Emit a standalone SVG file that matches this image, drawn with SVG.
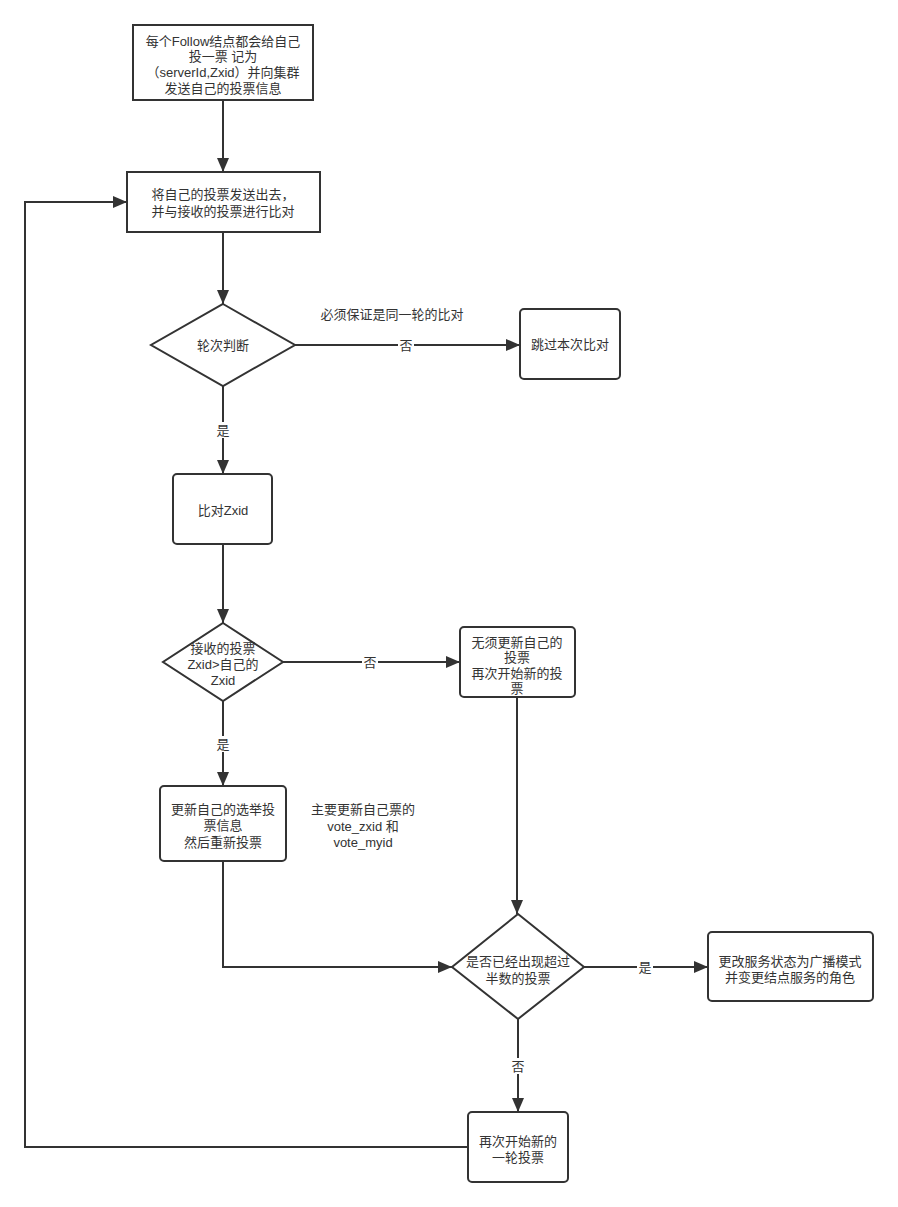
<svg xmlns="http://www.w3.org/2000/svg" width="898" height="1207" viewBox="0 0 898 1207">
<style>
.s{fill:#ffffff;stroke:#333333;stroke-width:2}
.e{fill:none;stroke:#333333;stroke-width:2}
text{font-family:"Liberation Sans","Noto Sans CJK SC",sans-serif;font-size:13px;fill:#333333;text-anchor:middle;dominant-baseline:central}
</style>
<defs>
<marker id="ar" markerWidth="14" markerHeight="12" refX="14" refY="6" orient="auto" markerUnits="userSpaceOnUse">
<path d="M0,0 L14,6 L0,12 Z" fill="#333333"/>
</marker>
</defs>
<rect width="898" height="1207" fill="#ffffff"/>
<g id="connectors">
<path class="e" d="M223,100 V172" marker-end="url(#ar)"/>
<path class="e" d="M223,232 V304" marker-end="url(#ar)"/>
<path class="e" d="M295,345 H520" marker-end="url(#ar)"/>
<path class="e" d="M223,386 V474" marker-end="url(#ar)"/>
<path class="e" d="M223,544 V623" marker-end="url(#ar)"/>
<path class="e" d="M283,662 H460" marker-end="url(#ar)"/>
<path class="e" d="M223,701 V786" marker-end="url(#ar)"/>
<path class="e" d="M517,697 V914" marker-end="url(#ar)"/>
<path class="e" d="M223,861 V967 H452" marker-end="url(#ar)"/>
<path class="e" d="M584,967 H708" marker-end="url(#ar)"/>
<path class="e" d="M518,1019 V1112" marker-end="url(#ar)"/>
<path class="e" d="M468,1147 H25 V202 H127" marker-end="url(#ar)"/>
<rect x="398" y="337" width="16" height="16" fill="#ffffff"/>
<text x="406" y="345">否</text>
<rect x="215" y="422" width="16" height="16" fill="#ffffff"/>
<text x="223" y="430">是</text>
<rect x="362" y="654" width="16" height="16" fill="#ffffff"/>
<text x="370" y="662">否</text>
<rect x="215" y="736" width="16" height="16" fill="#ffffff"/>
<text x="223" y="744">是</text>
<rect x="637" y="959" width="16" height="16" fill="#ffffff"/>
<text x="645" y="967">是</text>
<rect x="510" y="1058" width="16" height="16" fill="#ffffff"/>
<text x="518" y="1066">否</text>
<text x="392" y="314">必须保证是同一轮的比对</text>
<text x="363" y="809">主要更新自己票的</text>
<text x="363" y="826">vote_zxid 和</text>
<text x="363" y="842">vote_myid</text>
</g>
<g id="n1">
<rect class="s" x="133" y="25" width="180" height="75"/>
<text x="223" y="41">每个Follow结点都会给自己</text>
<text x="223" y="56">投一票 记为</text>
<text x="223" y="72">（serverId,Zxid）并向集群</text>
<text x="223" y="88">发送自己的投票信息</text>
</g>
<g id="n2">
<rect class="s" x="127" y="172" width="193" height="60"/>
<text x="223" y="194">将自己的投票发送出去，</text>
<text x="223" y="211">并与接收的投票进行比对</text>
</g>
<g id="n3">
<polygon class="s" points="223,304 295,345 223,386 151,345"/>
<text x="223" y="345">轮次判断</text>
</g>
<g id="n4">
<rect class="s" x="520" y="309" width="100" height="70" rx="4"/>
<text x="570" y="344">跳过本次比对</text>
</g>
<g id="n5">
<rect class="s" x="173" y="474" width="99" height="70" rx="4"/>
<text x="223" y="510">比对Zxid</text>
</g>
<g id="n6">
<polygon class="s" points="223,623 283,662 223,701 163,662"/>
<text x="223" y="648">接收的投票</text>
<text x="223" y="664">Zxid&gt;自己的</text>
<text x="223" y="680">Zxid</text>
</g>
<g id="n7">
<rect class="s" x="460" y="627" width="115" height="70" rx="4"/>
<text x="517" y="642">无须更新自己的</text>
<text x="517" y="657">投票</text>
<text x="517" y="673">再次开始新的投</text>
<text x="517" y="688">票</text>
</g>
<g id="n8">
<rect class="s" x="160" y="786" width="126" height="75" rx="4"/>
<text x="223" y="809">更新自己的选举投</text>
<text x="223" y="825">票信息</text>
<text x="223" y="842">然后重新投票</text>
</g>
<g id="n9">
<polygon class="s" points="518,914 584,967 518,1019 452,967"/>
<text x="518" y="961">是否已经出现超过</text>
<text x="518" y="978">半数的投票</text>
</g>
<g id="n10">
<rect class="s" x="708" y="932" width="165" height="69" rx="4"/>
<text x="790" y="961">更改服务状态为广播模式</text>
<text x="790" y="977">并变更结点服务的角色</text>
</g>
<g id="n11">
<rect class="s" x="468" y="1112" width="100" height="70" rx="4"/>
<text x="518" y="1141">再次开始新的</text>
<text x="518" y="1157">一轮投票</text>
</g>
</svg>
